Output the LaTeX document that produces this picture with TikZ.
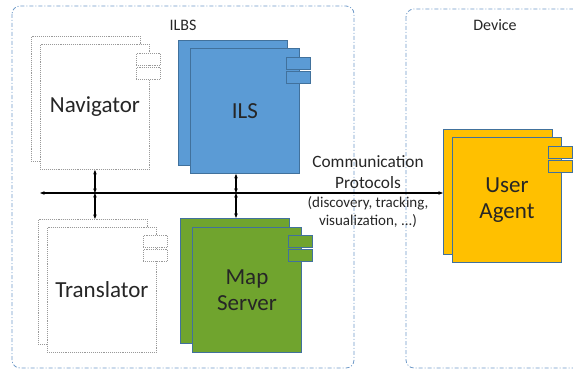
\documentclass[tikz,border=0pt]{standalone}
\usepackage{fontspec}
\setmainfont{Carlito}
\usetikzlibrary{arrows.meta}
\definecolor{ilsblue}{HTML}{5B9BD5}
\definecolor{edgeblue}{HTML}{41719C}
\definecolor{mapgreen}{HTML}{70A42E}
\definecolor{uayellow}{HTML}{FFC000}
\definecolor{framecol}{HTML}{6F9AC8}
\definecolor{txtgray}{HTML}{262626}
\begin{document}
\begin{tikzpicture}[x=1pt,y=-1pt,
                     comp/.style={draw=edgeblue,line width=0.9pt,anchor=north west,inner sep=0pt,
                                  minimum width=109pt,minimum height=125pt,text=txtgray,align=center,
                                  font=\fontsize{23}{26}\selectfont},
                     tab/.style={draw=edgeblue,line width=0.9pt,anchor=north west,inner sep=0pt,
                                 minimum width=24pt,minimum height=12pt},
                     ghost/.style={draw=gray!80,densely dotted,line width=0.9pt,fill=white},
                     frame/.style={draw=framecol,line width=0.8pt,rounded corners=8pt,
                                   dash pattern=on 4pt off 2pt on 1pt off 2pt},
                     link/.style={{Stealth[length=4.5pt,width=3.5pt]}-{Stealth[length=4.5pt,width=3.5pt]},line width=1.1pt}
                    ]
   \useasboundingbox (0,0) rectangle (573,369);
   % containers
   \draw[frame] (12,6) rectangle (354,368);
   \draw[frame] (406,9) rectangle (590,368);
   \node[text=txtgray,font=\fontsize{16}{18}\selectfont] (ilbs) at (183,25) {ILBS};
   \node[text=txtgray,font=\fontsize{16}{18}\selectfont] (dev) at (495,25) {Device};
   % Navigator
   \node[comp,ghost] (navb) at (31,36) {};
   \node[comp,ghost] (nav) at (40,44) {Navigator};
   \node[tab,ghost] (navt1) at (136,53) {};
   \node[tab,ghost] (navt2) at (136,67) {};
   % ILS
   \node[comp,fill=ilsblue] (ilsb) at (178,40) {};
   \node[comp,fill=ilsblue] (ils) at (190,48) {ILS};
   \node[tab,fill=ilsblue] (ilst1) at (286,57) {};
   \node[tab,fill=ilsblue] (ilst2) at (286,71) {};
   % Translator
   \node[comp,ghost] (trb) at (38,219) {};
   \node[comp,ghost] (tr) at (47,227) {Translator};
   \node[tab,ghost] (trt1) at (143,235) {};
   \node[tab,ghost] (trt2) at (143,249) {};
   % Map Server
   \node[comp,fill=mapgreen] (mapb) at (180,218) {};
   \node[comp,fill=mapgreen] (map) at (192,227) {Map\\Server};
   \node[tab,fill=mapgreen] (mapt1) at (288,235) {};
   \node[tab,fill=mapgreen] (mapt2) at (288,249) {};
   % User Agent
   \node[comp,fill=uayellow] (uab) at (443,129) {};
   \node[comp,fill=uayellow] (ua) at (452,137) {User\\Agent};
   \node[tab,fill=uayellow] (uat1) at (548,146) {};
   \node[tab,fill=uayellow] (uat2) at (548,160) {};
   % bus
   \coordinate (busl) at (40,193);
   \coordinate (ilsbus) at (236,193);
   \draw[link] (busl) -- (busl -| uab.west);
   \draw[link] (nav.south) -- (nav.south |- busl);
   \draw[link] (nav.south |- busl) -- (nav.south |- trb.north);
   \draw[link] (ilsbus |- ils.south) -- (ilsbus);
   \draw[link] (ilsbus) -- (ilsbus |- mapb.north);
   \node[text=txtgray,align=center,font=\fontsize{17.3}{21}\selectfont] (comm) at (368,172) {Communication\\Protocols};
   \node[text=txtgray,align=center,font=\fontsize{15}{18}\selectfont] (proto) at (368,212) {(discovery, tracking,\\visualization, ...)};
\end{tikzpicture}
\end{document}
